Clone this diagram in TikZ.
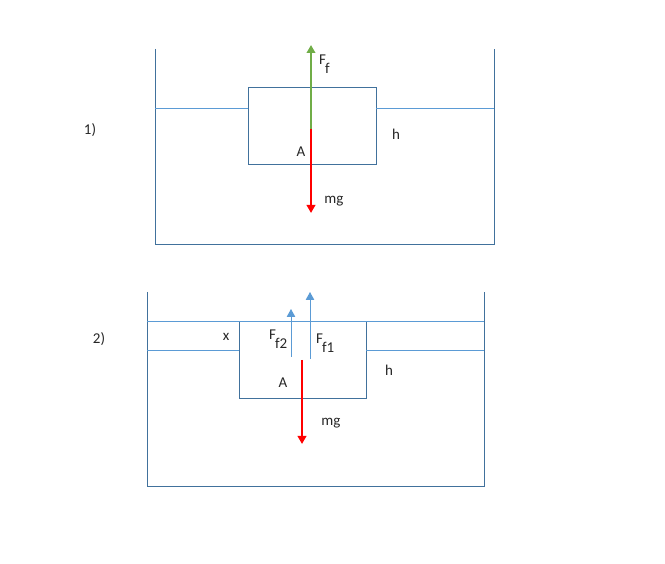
\documentclass[tikz,border=0pt]{standalone}
\usepackage{fontspec}
\setmainfont{Carlito}
\usetikzlibrary{arrows.meta,positioning}
\definecolor{tankblue}{HTML}{41719C}
\definecolor{waterblue}{HTML}{5B9BD5}
\definecolor{liftgreen}{HTML}{70AD47}
\newcommand{\Fsub}[1]{F\kern-1pt\raisebox{-9pt}{#1}}

\begin{document}
\begin{tikzpicture}[x=1pt,y=-1pt,font=\fontsize{15}{17}\selectfont,
    lbl/.style={inner sep=0pt,text=black!85},
    block/.style={draw=tankblue,line width=0.9pt,inner sep=0pt,minimum height=77pt},
    wall/.style={draw=tankblue,line width=0.8pt},
    level/.style={draw=waterblue,line width=0.9pt},
    force/.style={line width=2pt,-{Triangle[width=8.5pt,length=8pt]}},
    part/.style={line width=1pt,waterblue,-{Triangle[width=8.5pt,length=8pt]}}]
 \useasboundingbox (0,0) rectangle (665,564);
 % case 1
 \draw[wall] (155,49) -- (155,244) -- (494,244) -- (494,49);
 \node[block,minimum width=128pt] (B1) at (312,125.5) {};
 \draw[level] (155,108) -- (248,108) (376,108) -- (494,108);
 \coordinate (C1) at (311,129);
 \coordinate (Up1) at (311,45);
 \coordinate (Dn1) at (311,213);
 \draw[force,liftgreen] (C1) -- (Up1);
 \draw[force,red] (C1) -- (Dn1);
 \node[lbl,anchor=base west] (Ff) at (319,65) {\Fsub{f}};
 \node[lbl] (A1) at (301,152) {A};
 \node[lbl] (mg1) at (334,201) {mg};
 \node[lbl] (h1) at (396,134) {h};
 \node[lbl] (n1) at (90,130) {1)};
 % case 2
 \draw[wall] (147,292) -- (147,486) -- (484,486) -- (484,292);
 \node[block,minimum width=127pt] (B2) at (302.5,359.5) {};
 \draw[level] (147,321) -- (484,321);
 \draw[level] (147,350) -- (239,350) (366,350) -- (484,350);
 \coordinate (S2) at (291,357);
 \coordinate (T2) at (291,309);
 \coordinate (S1) at (310,359);
 \coordinate (T1) at (310,292);
 \draw[part] (S2) -- (T2);
 \draw[part] (S1) -- (T1);
 \coordinate (C2) at (302,360);
 \coordinate (Dn2) at (302,444);
 \draw[force,red] (C2) -- (Dn2);
 \node[lbl] (x) at (226,337) {x};
 \node[lbl,anchor=base west] (Ff2) at (269,340) {\Fsub{f2}};
 \node[lbl,anchor=base west] (Ff1) at (316,344) {\Fsub{f1}};
 \node[lbl] (A2) at (283,383) {A};
 \node[lbl] (mg2) at (331,423) {mg};
 \node[lbl] (h2) at (389,370) {h};
 \node[lbl] (n2) at (99,339) {2)};
\end{tikzpicture}
\end{document}
